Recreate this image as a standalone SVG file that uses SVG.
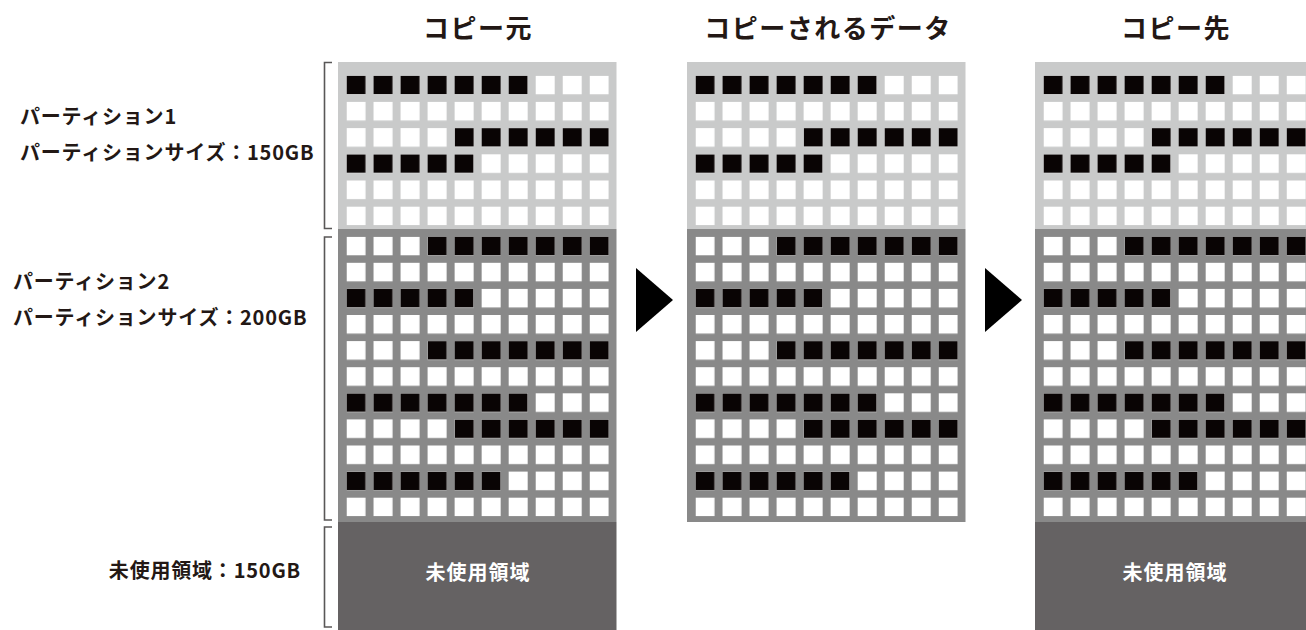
<svg xmlns="http://www.w3.org/2000/svg" xmlns:xlink="http://www.w3.org/1999/xlink" width="1306" height="630" viewBox="0 0 1306 630">
<style>
  .head{font-family:"Noto Sans CJK JP","Noto Sans",sans-serif;font-weight:bold;font-size:26px;letter-spacing:1.5px;fill:#231815;text-anchor:middle}
  .lbl{font-family:"Noto Sans CJK JP","Noto Sans",sans-serif;font-weight:bold;font-size:20px;letter-spacing:0.8px;fill:#231815}
  .unused-t{font-family:"Noto Sans CJK JP","Noto Sans",sans-serif;font-weight:bold;font-size:20px;letter-spacing:1px;fill:#ffffff;text-anchor:middle}
  .bracket{fill:none;stroke:#595757;stroke-width:1.6}
  .light{fill:#c9caca}
  .dark{fill:#898989}
  .unused{fill:#656263}
</style>
<defs>
  <pattern id="wl" patternUnits="userSpaceOnUse" x="8.5" y="75.7" width="27.03" height="26.2">
    <rect x="0" y="0" width="19" height="18.6" fill="#ffffff"/>
  </pattern>
  <pattern id="bl" patternUnits="userSpaceOnUse" x="8.5" y="75.7" width="27.03" height="26.2">
    <rect x="0" y="0" width="19" height="18.6" fill="#090404"/>
  </pattern>
  <pattern id="wd" patternUnits="userSpaceOnUse" x="8.5" y="236.7" width="27.03" height="26.1">
    <rect x="0" y="0" width="19" height="18.6" fill="#ffffff"/>
  </pattern>
  <pattern id="bd" patternUnits="userSpaceOnUse" x="8.5" y="236.7" width="27.03" height="26.1">
    <rect x="0" y="0" width="19" height="18.6" fill="#090404"/>
  </pattern>
  <g id="grid">
    <rect class="light" x="0" y="62" width="278.5" height="167"/>
    <rect class="dark" x="0" y="229" width="278.5" height="293"/>
    <rect x="8.5" y="75.7" width="262.3" height="149.6" fill="url(#wl)"/>
    <rect x="8.5" y="75.7" width="181.2" height="18.6" fill="url(#bl)"/>
    <rect x="116.6" y="128.1" width="154.2" height="18.6" fill="url(#bl)"/>
    <rect x="8.5" y="154.3" width="127.1" height="18.6" fill="url(#bl)"/>
    <rect x="8.5" y="236.7" width="262.3" height="279.6" fill="url(#wd)"/>
    <rect x="89.6" y="236.7" width="181.2" height="18.6" fill="url(#bd)"/>
    <rect x="8.5" y="288.9" width="127.1" height="18.6" fill="url(#bd)"/>
    <rect x="89.6" y="341.1" width="181.2" height="18.6" fill="url(#bd)"/>
    <rect x="8.5" y="393.3" width="181.2" height="18.6" fill="url(#bd)"/>
    <rect x="116.6" y="419.4" width="154.2" height="18.6" fill="url(#bd)"/>
    <rect x="8.5" y="471.6" width="154.2" height="18.6" fill="url(#bd)"/>
  </g>
</defs>

<g id="labels">
  <text class="lbl" x="20" y="124">パーティション1</text>
  <text class="lbl" x="20" y="160">パーティションサイズ：150GB</text>
  <text class="lbl" x="13" y="289">パーティション2</text>
  <text class="lbl" x="13" y="325">パーティションサイズ：200GB</text>
  <text class="lbl" x="301" y="578" text-anchor="end">未使用領域：150GB</text>
  <path class="bracket" d="M332,62.5 H324.5 V228.5 H332"/>
  <path class="bracket" d="M332,237 H324.5 V520 H332"/>
  <path class="bracket" d="M332,527 H324.5 V627 H332"/>
</g>

<g id="source">
  <text class="head" x="478" y="38">コピー元</text>
  <use xlink:href="#grid" href="#grid" x="338" y="0"/>
  <rect class="unused" x="338" y="522" width="278.5" height="108"/>
  <text class="unused-t" x="478" y="580">未使用領域</text>
</g>

<g id="copied-data">
  <text class="head" x="828" y="38">コピーされるデータ</text>
  <use xlink:href="#grid" href="#grid" x="687" y="0"/>
</g>

<g id="destination">
  <text class="head" x="1176" y="38">コピー先</text>
  <use xlink:href="#grid" href="#grid" x="1035" y="0"/>
  <rect class="unused" x="1035" y="522" width="278.5" height="108"/>
  <text class="unused-t" x="1175" y="580">未使用領域</text>
</g>

<g id="connectors">
  <polygon points="636,268 673,300 636,332" fill="#000000"/>
  <polygon points="985,268 1022,300 985,332" fill="#000000"/>
</g>
</svg>
